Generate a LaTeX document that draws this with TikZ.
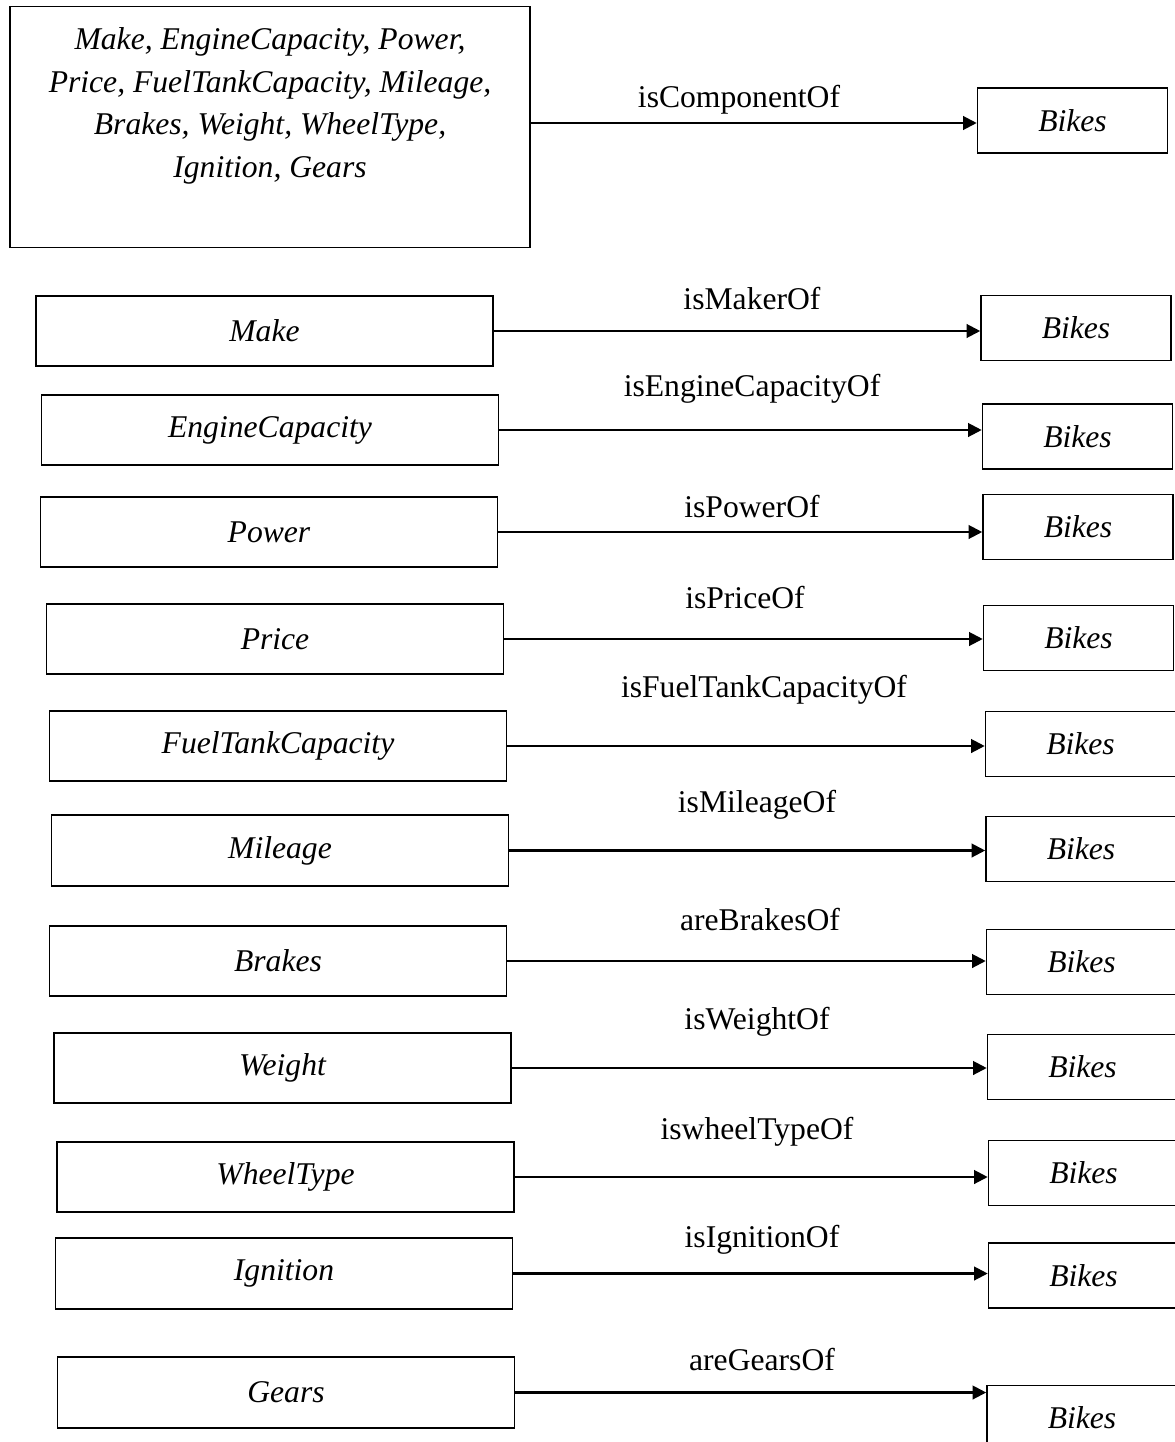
\documentclass[tikz,border=0pt]{standalone}
\usepackage{fontspec}
\setmainfont{Liberation Serif}
\usepackage{tikz}
\usetikzlibrary{arrows.meta}

\begin{document}
\begin{tikzpicture}[
  every node/.style={font=\fontsize{18}{26}\selectfont},
  attrbox/.style={draw,line width=0.9pt,minimum width=9.14cm,minimum height=1.41cm,font=\fontsize{18}{26}\selectfont\itshape},
  bikebox/.style={draw,line width=0.9pt,minimum width=3.8cm,minimum height=1.3cm,font=\fontsize{18}{26}\selectfont\itshape},
  rel/.style={-{Triangle[length=0.27cm,width=0.27cm]},line width=1.2pt}
]

\useasboundingbox (0,0) rectangle (23.5,-28.84);

% All components
\node[draw,line width=0.9pt,minimum width=10.4cm,minimum height=4.82cm,align=center,text depth=0.98cm,font=\fontsize{18}{24.4}\selectfont\itshape] (all) at (5.40,-2.54)
  {Make, EngineCapacity, Power,\\Price, FuelTankCapacity, Mileage,\\Brakes, Weight, WheelType,\\Ignition, Gears};
\node[bikebox] (bikes0) at (21.45,-2.41) {Bikes};
\node (lbl0) at (14.78,-2.0) {isComponentOf};

% Make
\node[attrbox] (make) at (5.29,-6.62) {Make};
\node[bikebox] (bikes1) at (21.52,-6.56) {Bikes};
\node (lbl1) at (15.04,-5.98) {isMakerOf};

% Engine capacity
\node[attrbox] (engine) at (5.40,-8.60) {EngineCapacity};
\node[bikebox] (bikes2) at (21.55,-8.73) {Bikes};
\node (lbl2) at (15.04,-7.78) {isEngineCapacityOf};

% Power
\node[attrbox] (power) at (5.38,-10.64) {Power};
\node[bikebox] (bikes3) at (21.56,-10.54) {Bikes};
\node (lbl3) at (15.04,-10.14) {isPowerOf};

% Price
\node[attrbox] (price) at (5.50,-12.78) {Price};
\node[bikebox] (bikes4) at (21.57,-12.76) {Bikes};
\node (lbl4) at (14.90,-11.96) {isPriceOf};

% Fuel tank capacity
\node[attrbox] (fuel) at (5.56,-14.92) {FuelTankCapacity};
\node[bikebox] (bikes5) at (21.61,-14.88) {Bikes};
\node (lbl5) at (15.28,-13.80) {isFuelTankCapacityOf};

% Mileage
\node[attrbox] (mileage) at (5.60,-17.01) {Mileage};
\node[bikebox] (bikes6) at (21.62,-16.98) {Bikes};
\node (lbl6) at (15.14,-16.10) {isMileageOf};

% Brakes
\node[attrbox] (brakes) at (5.56,-19.22) {Brakes};
\node[bikebox] (bikes7) at (21.63,-19.24) {Bikes};
\node (lbl7) at (15.20,-18.40) {areBrakesOf};

% Weight
\node[attrbox] (weight) at (5.65,-21.36) {Weight};
\node[bikebox] (bikes8) at (21.65,-21.34) {Bikes};
\node (lbl8) at (15.14,-20.44) {isWeightOf};

% Wheel type
\node[attrbox] (wheel) at (5.71,-23.54) {WheelType};
\node[bikebox] (bikes9) at (21.67,-23.46) {Bikes};
\node (lbl9) at (15.14,-22.64) {iswheelTypeOf};

% Ignition
\node[attrbox] (ignition) at (5.68,-25.47) {Ignition};
\node[bikebox] (bikes10) at (21.67,-25.51) {Bikes};
\node (lbl10) at (15.24,-24.80) {isIgnitionOf};

% Gears
\node[attrbox] (gears) at (5.72,-27.85) {Gears};
\node[bikebox] (bikes11) at (21.64,-28.36) {Bikes};
\node (lbl11) at (15.24,-27.20) {areGearsOf};

% Arrows
\draw[rel] (all.east |- 0,-2.46) -- (bikes0.west |- 0,-2.46);
\draw[rel] (make.east) -- (bikes1.west |- make.east);
\draw[rel] (engine.east) -- (bikes2.west |- engine.east);
\draw[rel] (power.east) -- (bikes3.west |- power.east);
\draw[rel] (price.east) -- (bikes4.west |- price.east);
\draw[rel] (fuel.east) -- (bikes5.west |- fuel.east);
\draw[rel] (mileage.east) -- (bikes6.west |- mileage.east);
\draw[rel] (brakes.east) -- (bikes7.west |- brakes.east);
\draw[rel] (weight.east) -- (bikes8.west |- weight.east);
\draw[rel] (wheel.east) -- (bikes9.west |- wheel.east);
\draw[rel] (ignition.east) -- (bikes10.west |- ignition.east);
\draw[rel] (gears.east) -- (bikes11.west |- gears.east);

\end{tikzpicture}
\end{document}
